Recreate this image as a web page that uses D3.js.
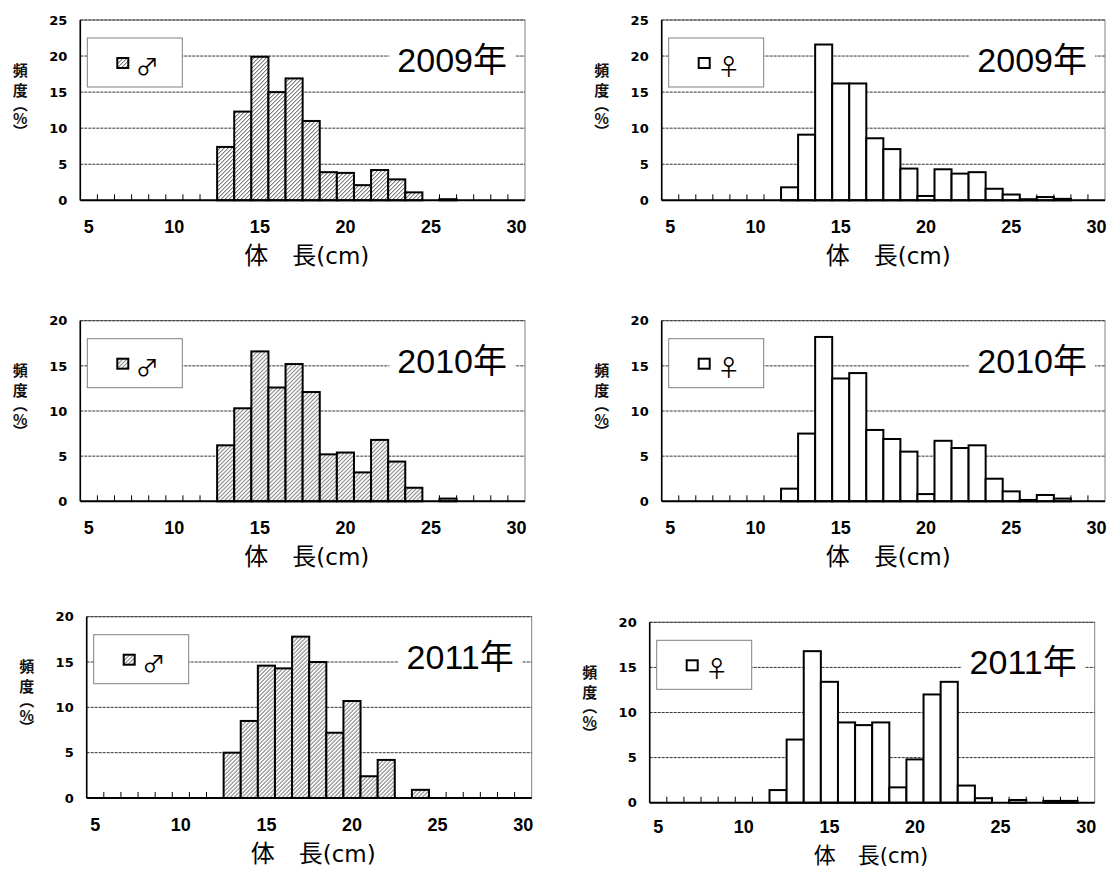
<!DOCTYPE html>
<html>
<head>
<meta charset="utf-8">
<script src="https://cdn.jsdelivr.net/npm/d3@7"></script>
<style>
  body { margin: 0; background: #fff; }
  svg { display: block; }
</style>
</head>
<body>
<svg id="chart" width="1107" height="870"></svg>
<script>
// Body-length classes (cm) on the category axis
const lengthClasses = [5, 6, 7, 8, 9, 10, 11, 12, 13, 14, 15, 16, 17, 18, 19, 20, 21, 22, 23, 24, 25, 26, 27, 28, 29, 30];
const labelledClasses = [5, 10, 15, 20, 25, 30];

// Frequency (%) per length class, one array per sex and year
const male2009   = [0, 0, 0, 0, 0, 0, 0, 0, 7.4, 12.3, 19.9, 15.0, 16.9, 11.0, 3.9, 3.8, 2.1, 4.2, 2.9, 1.1, 0, 0.15, 0, 0, 0, 0];
const female2009 = [0, 0, 0, 0, 0, 0, 0, 1.8, 9.1, 21.6, 16.2, 16.2, 8.6, 7.1, 4.4, 0.6, 4.3, 3.7, 3.9, 1.6, 0.8, 0.15, 0.45, 0.2, 0, 0];
const male2010   = [0, 0, 0, 0, 0, 0, 0, 0, 6.2, 10.3, 16.6, 12.6, 15.2, 12.1, 5.2, 5.4, 3.2, 6.8, 4.4, 1.5, 0, 0.3, 0, 0, 0, 0];
const female2010 = [0, 0, 0, 0, 0, 0, 0, 1.4, 7.5, 18.2, 13.6, 14.2, 7.9, 6.9, 5.5, 0.8, 6.7, 5.9, 6.2, 2.5, 1.1, 0.15, 0.7, 0.3, 0, 0];
const male2011   = [0, 0, 0, 0, 0, 0, 0, 0, 5.0, 8.5, 14.6, 14.3, 17.8, 15.0, 7.2, 10.7, 2.4, 4.2, 0, 0.9, 0, 0, 0, 0, 0, 0];
const female2011 = [0, 0, 0, 0, 0, 0, 0, 1.4, 7.0, 16.8, 13.4, 8.9, 8.6, 8.9, 1.7, 4.8, 12.0, 13.4, 1.9, 0.5, 0, 0.3, 0, 0.2, 0.2, 0];

const yearLabels = ["2009年", "2010年", "2011年"];
const sexSymbols = { male: "♂", female: "♀" };
const xTitleMain = "体　長";
const xTitleUnit = "(cm)";
const yTitle = "頻度︵%︶";

// Panel frames (plot-area edges in page pixels)
const panels = [
  { values: male2009,   sex: "male",   year: yearLabels[0], yMax: 25, left: 80.3,  right: 525,    top: 20,    bottom: 200.3 },
  { values: female2009, sex: "female", year: yearLabels[0], yMax: 25, left: 661.7, right: 1105,   top: 20,    bottom: 200.3 },
  { values: male2010,   sex: "male",   year: yearLabels[1], yMax: 20, left: 80.3,  right: 525,    top: 320.7, bottom: 501.3 },
  { values: female2010, sex: "female", year: yearLabels[1], yMax: 20, left: 661.7, right: 1105,   top: 320.7, bottom: 501.3 },
  { values: male2011,   sex: "male",   year: yearLabels[2], yMax: 20, left: 86.7,  right: 531.7,  top: 616.7, bottom: 798 },
  { values: female2011, sex: "female", year: yearLabels[2], yMax: 20, left: 649.7, right: 1094.7, top: 622.3, bottom: 802.7,
    tickPad: 18, titleSize: 22 }
];

const svg = d3.select("#chart");
const pageHeight = 870;

// Diagonal hatch used for the male bars
const defs = svg.append("defs");
const hatch = defs.append("pattern")
  .attr("id", "hatch")
  .attr("patternUnits", "userSpaceOnUse")
  .attr("width", 4).attr("height", 4);
hatch.append("rect").attr("width", 4).attr("height", 4).attr("fill", "#fff");
hatch.append("path")
  .attr("d", "M-1,1 l2,-2 M0,4 l4,-4 M3,5 l2,-2")
  .attr("stroke", "#333").attr("stroke-width", 0.9);

const fillFor = sex => sex === "male" ? "url(#hatch)" : "#fff";

panels.forEach(p => {
  const w = p.right - p.left;
  const h = p.bottom - p.top;
  const g = svg.append("g").attr("transform", `translate(${p.left},${p.top})`);

  const x = d3.scaleBand().domain(lengthClasses).range([0, w]).padding(0);
  const y = d3.scaleLinear().domain([0, p.yMax]).range([h, 0]);
  const yTicks = d3.range(0, p.yMax + 1, 5);

  // Plot area frame
  g.append("rect")
    .attr("width", w).attr("height", h)
    .attr("fill", "#fff").attr("stroke", "#808080").attr("stroke-width", 1);

  // Horizontal gridlines
  g.selectAll("line.grid")
    .data(yTicks.filter(t => t > 0))
    .join("line")
    .attr("class", "grid")
    .attr("x1", 0).attr("x2", w)
    .attr("y1", d => y(d)).attr("y2", d => y(d))
    .attr("stroke", "#333").attr("stroke-width", 1)
    .attr("stroke-dasharray", "3,1");

  // Inward tick marks between length classes
  g.selectAll("line.xtick")
    .data(lengthClasses.slice(1))
    .join("line")
    .attr("class", "xtick")
    .attr("x1", d => x(d)).attr("x2", d => x(d))
    .attr("y1", h).attr("y2", h - 6)
    .attr("stroke", "#000").attr("stroke-width", 1);

  // Legend box
  const lx = 7, ly = 18;
  const legend = g.append("g").attr("transform", `translate(${lx},${ly})`);
  legend.append("rect")
    .attr("width", 95).attr("height", 49)
    .attr("fill", "#fff").attr("stroke", "#808080").attr("stroke-width", 1);
  legend.append("rect")
    .attr("x", 30).attr("y", 20).attr("width", 11).attr("height", 10)
    .attr("fill", fillFor(p.sex)).attr("stroke", "#000").attr("stroke-width", 2);
  legend.append("text")
    .attr("x", 60).attr("y", 37)
    .attr("text-anchor", "middle")
    .attr("font-family", "'Noto Sans CJK JP', 'DejaVu Sans', sans-serif")
    .attr("font-size", 23)
    .attr("fill", "#000")
    .text(sexSymbols[p.sex]);

  // Year label on a white patch over the gridline
  const yearG = g.append("g");
  const bg = yearG.append("rect").attr("fill", "#fff");
  const yearText = yearG.append("text")
    .attr("x", w - 18).attr("y", 52)
    .attr("text-anchor", "end")
    .attr("font-family", "'Liberation Sans', Arial, 'Noto Sans CJK JP', sans-serif")
    .attr("font-size", 34)
    .attr("fill", "#000")
    .text(p.year);
  const bb = yearText.node().getBBox();
  bg.attr("x", bb.x - 8).attr("y", bb.y).attr("width", bb.width + 16).attr("height", bb.height);

  // Bars
  g.selectAll("rect.bar")
    .data(lengthClasses.map((c, i) => ({ c, v: p.values[i] })).filter(d => d.v > 0))
    .join("rect")
    .attr("class", "bar")
    .attr("x", d => x(d.c))
    .attr("y", d => y(d.v))
    .attr("width", x.bandwidth())
    .attr("height", d => h - y(d.v))
    .attr("fill", fillFor(p.sex))
    .attr("stroke", "#000").attr("stroke-width", 2);

  // Axis lines
  g.append("line").attr("x1", 0).attr("x2", 0).attr("y1", 0).attr("y2", h)
    .attr("stroke", "#000").attr("stroke-width", 1.6);
  g.append("line").attr("x1", 0).attr("x2", w).attr("y1", h).attr("y2", h)
    .attr("stroke", "#000").attr("stroke-width", 2);

  // Y tick labels
  const yAxis = g.append("g")
    .call(d3.axisLeft(y).tickValues(yTicks).tickSize(0).tickPadding(13).tickFormat(d3.format("d")));
  yAxis.select(".domain").remove();
  yAxis.selectAll("text")
    .attr("font-family", "'DejaVu Sans', sans-serif")
    .attr("font-weight", "bold")
    .attr("font-size", 13)
    .attr("fill", "#000");

  // X tick labels
  const xAxis = g.append("g")
    .attr("transform", `translate(0,${h})`)
    .call(d3.axisBottom(x).tickValues(labelledClasses).tickSize(0).tickPadding(p.tickPad || 20));
  xAxis.select(".domain").remove();
  xAxis.selectAll("text")
    .attr("font-family", "'Liberation Sans', Arial, sans-serif")
    .attr("font-weight", "bold")
    .attr("font-size", 18)
    .attr("fill", "#000");

  // X axis title (kept inside the page at the bottom row)
  const tSize = p.titleSize || 24;
  const titleBase = Math.min(h + 64, pageHeight - p.top - 0.3 * tSize);
  const xt = g.append("text")
    .attr("x", 164).attr("y", titleBase)
    .attr("font-size", tSize)
    .attr("fill", "#000");
  xt.append("tspan")
    .attr("font-family", "'Noto Sans CJK JP', sans-serif")
    .text(xTitleMain);
  xt.append("tspan")
    .attr("font-family", "'DejaVu Sans', sans-serif")
    .attr("font-size", tSize - 1)
    .text(xTitleUnit);

  // Y axis title, one glyph per row (rows are glyph centres)
  const yRows = [50.5, 70.5, 84.5, 99, 111.5];
  const yFont = 15;
  g.append("text")
    .attr("x", yRows.map(() => -60).join(" "))
    .attr("y", yRows.map(r => r + 0.35 * yFont).join(" "))
    .attr("text-anchor", "middle")
    .attr("font-family", "'Noto Sans CJK JP', sans-serif")
    .attr("font-weight", "bold")
    .attr("font-size", yFont)
    .attr("fill", "#111")
    .text(yTitle);
});
</script>
</body>
</html>
